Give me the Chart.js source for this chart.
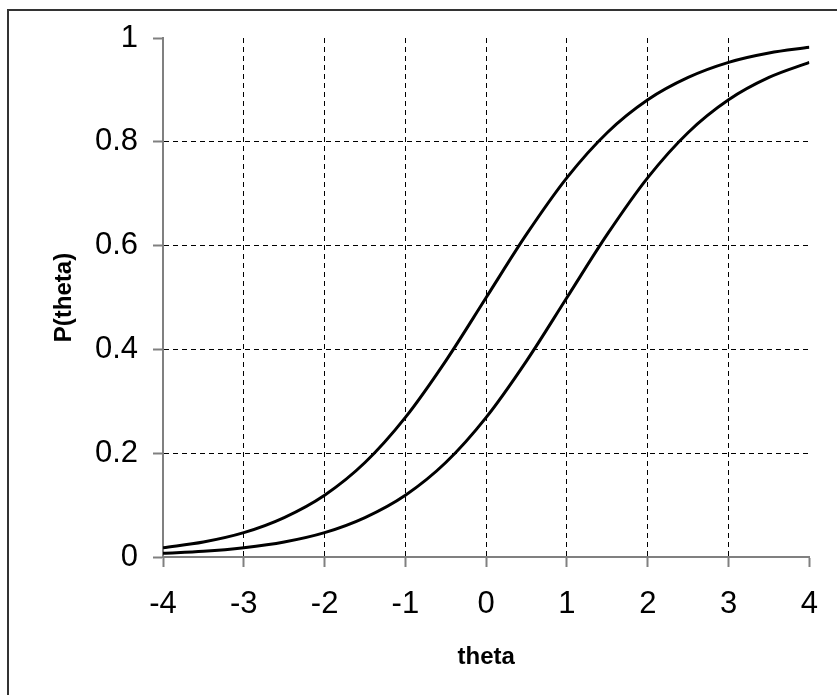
<!DOCTYPE html>
<html>
<head>
<meta charset="utf-8">
<script src="https://cdn.jsdelivr.net/npm/chart.js@4/dist/chart.umd.min.js"></script>
<style>
  body { margin: 0; background: #fff; }
  #wrap { position: relative; width: 837px; height: 695px; }
  #frame {
    position: absolute; left: 7px; top: 9px; right: 0; bottom: 0;
    border-left: 2px solid #333; border-top: 2px solid #333;
    pointer-events: none;
  }
</style>
</head>
<body>
<div id="wrap">
  <canvas id="icc" width="837" height="695"></canvas>
  <div id="frame"></div>
</div>
<script>
// DATA
const theta = [-4, -3.5, -3, -2.5, -2, -1.5, -1, -0.5, 0, 0.5, 1, 1.5, 2, 2.5, 3, 3.5, 4];
const itemA = [0.018, 0.029, 0.047, 0.076, 0.119, 0.182, 0.269, 0.378, 0.5, 0.622, 0.731, 0.818, 0.881, 0.924, 0.953, 0.971, 0.982];
const itemB = [0.007, 0.011, 0.018, 0.029, 0.047, 0.076, 0.119, 0.182, 0.269, 0.378, 0.5, 0.622, 0.731, 0.818, 0.881, 0.924, 0.953];
const xTicks = [-4, -3, -2, -1, 0, 1, 2, 3, 4];
const yTicks = [0, 0.2, 0.4, 0.6, 0.8, 1];

const toPoints = (ys) => theta.map((x, i) => ({ x: x, y: ys[i] }));

// grid line only inside the plot, not on its edges
function innerGrid(min, max) {
  return function (ctx) {
    const v = ctx.tick ? ctx.tick.value : null;
    return v === min || v === max ? "rgba(0,0,0,0)" : "#000";
  };
}

const lineStyle = {
  borderColor: "#000",
  borderWidth: 3,
  pointRadius: 0,
  fill: false,
  cubicInterpolationMode: "monotone",
};

const gridStyle = (min, max) => ({
  color: innerGrid(min, max),
  lineWidth: 1,
  tickLength: 10,
  tickColor: "#808080",
  tickWidth: 2,
  tickBorderDash: [],
});

const borderStyle = { display: true, color: "#808080", width: 2, dash: [5, 4] };

new Chart(document.getElementById("icc"), {
  type: "scatter",
  data: {
    datasets: [
      Object.assign({ label: "a", data: toPoints(itemA), showLine: true }, lineStyle),
      Object.assign({ label: "b", data: toPoints(itemB), showLine: true }, lineStyle),
    ],
  },
  options: {
    responsive: false,
    animation: false,
    layout: { padding: { top: 38, right: 26, left: 0, bottom: 0 } },
    scales: {
      x: {
        type: "linear",
        min: -4,
        max: 4,
        afterBuildTicks: (s) => { s.ticks = xTicks.map((v) => ({ value: v })); },
        afterFit: (s) => { s.height = 138; },
        ticks: {
          color: "#000",
          padding: 19,
          maxRotation: 0,
          font: { family: "'Liberation Sans', Arial", size: 31 },
        },
        grid: gridStyle(-4, 4),
        border: borderStyle,
        title: {
          display: true,
          text: "theta",
          color: "#000",
          padding: { top: 0, bottom: 23 },
          font: { family: "'Liberation Sans', Arial", size: 24, weight: "bold" },
        },
      },
      y: {
        type: "linear",
        min: 0,
        max: 1,
        afterBuildTicks: (s) => { s.ticks = yTicks.map((v) => ({ value: v })); },
        afterFit: (s) => { s.width = 163; },
        ticks: {
          color: "#000",
          padding: 15,
          callback: (v) => String(Math.round(v * 10) / 10),
          font: { family: "'Liberation Sans', Arial", size: 31 },
        },
        grid: gridStyle(0, 1),
        border: borderStyle,
        title: {
          display: true,
          text: "P(theta)",
          color: "#000",
          padding: { top: 50, bottom: 0 },
          font: { family: "'Liberation Sans', Arial", size: 24, weight: "bold" },
        },
      },
    },
    plugins: {
      legend: { display: false },
      tooltip: { enabled: false },
    },
  },
});
</script>
</body>
</html>
